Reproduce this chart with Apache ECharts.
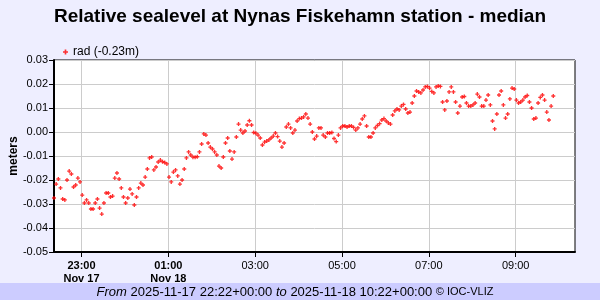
<!DOCTYPE html>
<html><head><meta charset="utf-8">
<script src="https://cdn.jsdelivr.net/npm/echarts@6/dist/echarts.min.js"></script>
<style>html,body{margin:0;padding:0;background:#eeeeff}#c{width:600px;height:300px}</style>
</head><body><div id="c"></div>
<script>
const titleText = 'Relative sealevel at Nynas Fiskehamn station - median';
const seriesName = 'rad (-0.23m)';
const startTime = '2025-11-17T22:22:00Z';
const endTime = '2025-11-18T10:22:00Z';
const sampleMinutes = 3;
const sealevel = [
-0.0275,-0.0217,-0.0196,-0.0233,-0.0279,-0.0283,-0.0200,-0.0163,-0.0175,-0.0229,
-0.0221,-0.0192,-0.0208,-0.0263,-0.0296,-0.0283,-0.0296,-0.0321,-0.0321,-0.0296,
-0.0279,-0.0317,-0.0342,-0.0296,-0.0254,-0.0254,-0.0271,-0.0267,-0.0192,-0.0171,
-0.0196,-0.0233,-0.0271,-0.0296,-0.0275,-0.0238,-0.0258,-0.0304,-0.0271,-0.0233,
-0.0213,-0.0221,-0.0188,-0.0154,-0.0108,-0.0104,-0.0158,-0.0146,-0.0125,-0.0117,
-0.0124,-0.0127,-0.0133,-0.0188,-0.0208,-0.0167,-0.0158,-0.0183,-0.0217,-0.0200,
-0.0154,-0.0108,-0.0083,-0.0096,-0.0105,-0.0105,-0.0103,-0.0083,-0.0050,-0.0008,
-0.0013,-0.0046,-0.0063,-0.0071,-0.0083,-0.0096,-0.0142,-0.0150,-0.0104,-0.0046,
-0.0025,-0.0079,-0.0113,-0.0083,-0.0021,0.0033,0.0008,-0.0004,0.0004,0.0029,
0.0047,0.0029,-0.0002,-0.0005,-0.0013,-0.0025,-0.0054,-0.0042,-0.0038,-0.0033,
-0.0025,-0.0017,-0.0004,-0.0019,-0.0038,-0.0063,-0.0046,0.0021,0.0033,0.0017,
-0.0004,0.0008,0.0046,0.0056,0.0058,0.0063,0.0075,0.0058,0.0033,0.0000,
-0.0029,-0.0017,0.0017,0.0017,-0.0013,-0.0021,-0.0004,-0.0004,-0.0002,-0.0027,
-0.0040,-0.0013,0.0017,0.0025,0.0025,0.0021,0.0025,0.0025,0.0019,0.0008,
0.0017,0.0033,0.0054,0.0067,0.0025,-0.0021,-0.0021,-0.0004,0.0017,0.0027,
0.0035,0.0050,0.0056,0.0046,0.0038,0.0033,0.0071,0.0088,0.0096,0.0092,
0.0108,0.0115,0.0096,0.0079,0.0083,0.0121,0.0150,0.0171,0.0167,0.0163,
0.0175,0.0188,0.0190,0.0183,0.0169,0.0163,0.0188,0.0192,0.0190,0.0125,
0.0092,0.0129,0.0167,0.0188,0.0167,0.0125,0.0079,0.0108,0.0146,0.0148,
0.0121,0.0108,0.0108,0.0113,0.0121,0.0158,0.0146,0.0108,0.0108,0.0133,
0.0154,0.0113,0.0046,0.0013,0.0075,0.0154,0.0171,0.0113,0.0058,0.0075,
0.0138,0.0183,0.0179,0.0133,0.0121,0.0125,0.0133,0.0146,0.0152,0.0125,
0.0100,0.0054,0.0058,0.0121,0.0144,0.0154,0.0133,0.0083,0.0050,0.0108,
0.0150
];
const tickTimes = ['2025-11-17T23:00:00Z','2025-11-18T01:00:00Z','2025-11-18T03:00:00Z','2025-11-18T05:00:00Z','2025-11-18T07:00:00Z','2025-11-18T09:00:00Z'];
const tickTimeLabels = ['23:00','01:00','03:00','05:00','07:00','09:00'];
const tickDateLabels = ['Nov 17','Nov 18','','','',''];
const yMin = -0.05, yMax = 0.03, yStep = 0.01;
const footerFrom = '2025-11-17 22:22+00:00';
const footerTo = '2025-11-18 10:22+00:00';

const FONT = '"Liberation Sans", Arial, Helvetica, sans-serif';
const PLUS = 'path://M2,0H4V2H6V4H4V6H2V4H0V2H2Z';
const t0 = Date.parse(startTime);
const tickMs = tickTimes.map(s => Date.parse(s));
const data = sealevel.map((v, i) => [t0 + i * sampleMinutes * 60000, v]);

const chart = echarts.init(document.getElementById('c'), null, {renderer: 'canvas'});
chart.setOption({
  animation: false,
  backgroundColor: '#eeeeff',
  textStyle: {fontFamily: FONT},
  title: {
    text: titleText, left: 'center', top: 2,
    textStyle: {fontFamily: FONT, fontSize: 19, fontWeight: 'bold', color: '#000'}
  },
  legend: {
    left: 58, top: 41, itemWidth: 5, itemHeight: 5, itemGap: 6,
    textStyle: {fontFamily: FONT, fontSize: 12, color: '#000'},
    data: [{name: seriesName, icon: PLUS}]
  },
  grid: {left: 54, right: 25, top: 60, bottom: 48, show: true, borderColor: '#000', borderWidth: 1,
    backgroundColor: '#fff', containLabel: false, outerBoundsMode: 'none'},
  xAxis: {
    type: 'value', min: Date.parse(startTime), max: Date.parse(endTime), scale: true,
    axisLine: {onZero: false, lineStyle: {color: '#000', width: 2}},
    axisTick: {show: true, length: 5, lineStyle: {color: '#000'}, customValues: tickMs},
    splitLine: {show: true, lineStyle: {color: '#cccccc', width: 1}},
    axisLabel: {
      customValues: tickMs, margin: 7, color: '#000', fontSize: 11, fontFamily: FONT, lineHeight: 13,
      formatter: function (v) {
        const i = tickMs.indexOf(v);
        if (i < 0) return '';
        if (tickDateLabels[i]) return '{b|' + tickTimeLabels[i] + '}\n{b|' + tickDateLabels[i] + '}';
        return tickTimeLabels[i];
      },
      rich: {b: {fontWeight: 'bold', fontSize: 11, fontFamily: FONT, color: '#000', lineHeight: 13}}
    }
  },
  yAxis: {
    type: 'value', min: yMin, max: yMax, interval: yStep,
    name: 'meters', nameLocation: 'middle', nameGap: 34, nameMoveOverlap: false,
    nameTextStyle: {fontFamily: FONT, fontSize: 12, fontWeight: 'bold', color: '#000'},
    axisLine: {show: true, onZero: false, lineStyle: {color: '#000', width: 2}},
    axisTick: {show: true, length: 5, lineStyle: {color: '#000'}},
    splitLine: {show: true, lineStyle: {color: '#cccccc', width: 1}},
    axisLabel: {
      color: '#000', fontSize: 11, fontFamily: FONT, margin: 6,
      formatter: v => (Math.abs(v) < 1e-9 ? 0 : v).toFixed(2)
    }
  },
  series: [{
    name: seriesName, type: 'scatter', data: data,
    symbol: PLUS, symbolSize: 4,
    itemStyle: {color: '#ff0000'}
  }],
  graphic: [
    {type: 'rect', left: 0, top: 283, shape: {width: 600, height: 17}, style: {fill: '#ccccff'}, z: 0},
    {type: 'text', x: 295, y: 292, z: 10, style: {
      text: '{i|From} ' + footerFrom + ' {i|to} ' + footerTo + ' {s|© IOC-VLIZ}',
      align: 'center', verticalAlign: 'middle',
      font: '13px ' + FONT, fill: '#000',
      rich: {i: {fontStyle: 'italic', fontSize: 13, fontFamily: FONT}, s: {fontSize: 11, fontFamily: FONT}}
    }}
  ]
});
</script></body></html>
